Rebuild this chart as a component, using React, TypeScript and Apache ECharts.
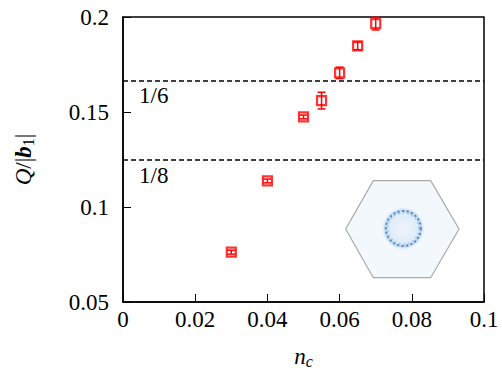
import React, { useEffect, useRef } from "react";
import * as echarts from "echarts";

const nc = [0.03, 0.04, 0.05, 0.055, 0.06, 0.065, 0.07];
const qb = [0.0762, 0.1137, 0.1474, 0.156, 0.1706, 0.1848, 0.1965];
const err = [0.001, 0.001, 0.001, 0.0044, 0.003, 0.002, 0.0033];
const xTicks = [0, 0.02, 0.04, 0.06, 0.08, 0.1];
const refLines = [
  { value: 1 / 6, label: "1/6" },
  { value: 1 / 8, label: "1/8" },
];

const SERIF = "Liberation Serif";
const RED = "#ff0000";
const FS = 23;

export default function App() {
  const ref = useRef<HTMLDivElement>(null);
  useEffect(() => {
    document.body.style.margin = "0";
    if (!ref.current) return;
    const chart = echarts.init(ref.current, undefined, { renderer: "svg" });
    const points = nc.map((x, i) => [x, qb[i]]);
    const errData = nc.map((x, i) => [x, qb[i], err[i]]);
    chart.setOption({
      animation: false,
      textStyle: { fontFamily: SERIF },
      grid: {
        left: 123,
        right: 18,
        top: 17,
        bottom: 79,
        show: true,
        borderColor: "#000",
        borderWidth: 1.5,
        backgroundColor: "transparent",
      },
      xAxis: {
        type: "value",
        min: 0,
        max: 0.1,
        interval: 0.02,
        name: "{i|n}{s|c}",
        nameLocation: "middle",
        nameGap: 41,
        nameTextStyle: {
          rich: {
            i: { fontFamily: SERIF, fontStyle: "italic", fontSize: FS, color: "#000" },
            s: { fontFamily: SERIF, fontStyle: "italic", fontSize: 16, color: "#000", verticalAlign: "bottom", padding: [10, 0, 0, 0] },
          },
        },
        axisLine: { lineStyle: { color: "#000", width: 1.5 } },
        axisTick: { inside: true, length: 8, lineStyle: { color: "#000", width: 1 } },
        splitLine: { show: false },
        axisLabel: {
          margin: 6,
          fontFamily: SERIF,
          fontSize: FS,
          color: "#000",
          formatter: (v: number) => {
            const t = xTicks.find((k) => Math.abs(k - v) < 1e-9);
            return t === undefined ? "" : String(parseFloat(t.toFixed(3)));
          },
        },
      },
      yAxis: {
        type: "value",
        min: 0.05,
        max: 0.2,
        interval: 0.05,
        name: "{i|Q}{n|/|}{b|b}{s|1}{n||}",
        nameLocation: "middle",
        nameRotate: 90,
        nameGap: 87,
        nameTextStyle: {
          rich: {
            i: { fontFamily: SERIF, fontStyle: "italic", fontSize: FS, color: "#000" },
            n: { fontFamily: SERIF, fontSize: FS, color: "#000" },
            b: { fontFamily: SERIF, fontStyle: "italic", fontWeight: "bold", fontSize: FS, color: "#000" },
            s: { fontFamily: SERIF, fontSize: 16, color: "#000", verticalAlign: "bottom", padding: [10, 0, 0, 0] },
          },
        },
        axisLine: { lineStyle: { color: "#000", width: 1.5 } },
        axisTick: { inside: true, length: 8, lineStyle: { color: "#000", width: 1 } },
        splitLine: { show: false },
        axisLabel: {
          margin: 14,
          fontFamily: SERIF,
          fontSize: FS,
          color: "#000",
          formatter: (v: number) => String(parseFloat(v.toFixed(3))),
        },
      },
      series: [
        {
          type: "custom",
          name: "err",
          data: errData,
          z: 3,
          renderItem: (params: any, api: any) => {
            const x = api.value(0);
            const y = api.value(1);
            const e = api.value(2);
            const top = api.coord([x, y + e]);
            const bot = api.coord([x, y - e]);
            const hw = 4;
            const style = { stroke: RED, lineWidth: 1.5 };
            return {
              type: "group",
              children: [
                { type: "line", shape: { x1: top[0], y1: top[1], x2: bot[0], y2: bot[1] }, style },
                { type: "line", shape: { x1: top[0] - hw, y1: top[1], x2: top[0] + hw, y2: top[1] }, style },
                { type: "line", shape: { x1: bot[0] - hw, y1: bot[1], x2: bot[0] + hw, y2: bot[1] }, style },
              ],
            };
          },
        },
        {
          type: "scatter",
          name: "data",
          data: points,
          symbol: "rect",
          symbolSize: 9,
          z: 4,
          itemStyle: { color: "rgba(255,255,255,0)", borderColor: RED, borderWidth: 2.2 },
          markLine: {
            silent: true,
            symbol: "none",
            precision: 8,
            lineStyle: { color: "#000", type: [5, 3], width: 1.5 },
            label: {
              show: true,
              position: "insideStartBottom",
              distance: [16, 4],
              fontFamily: SERIF,
              fontSize: FS,
              color: "#000",
              formatter: (p: any) => p.name,
            },
            data: refLines.map((r) => ({ yAxis: r.value, name: r.label })),
          },
        },
      ],
      graphic: [
        {
          type: "polygon",
          z: 1,
          shape: {
            points: [
              [373.3, 180.7],
              [430.7, 180.7],
              [459, 229],
              [430.7, 277.7],
              [373.3, 277.7],
              [345.7, 229],
            ],
          },
          style: { fill: "#f3f8fd", stroke: "#aaaaaa", lineWidth: 1.2 },
        },
        {
          type: "circle",
          z: 2,
          shape: { cx: 403.3, cy: 228.5, r: 21 },
          style: {
            fill: {
              type: "radial",
              x: 0.5,
              y: 0.5,
              r: 0.5,
              colorStops: [
                { offset: 0, color: "rgba(232,241,250,0.5)" },
                { offset: 0.7, color: "rgba(205,225,245,0.55)" },
                { offset: 0.85, color: "rgba(140,185,228,0.6)" },
                { offset: 1, color: "rgba(215,233,248,0.2)" },
              ],
            },
          },
        },
        {
          type: "circle",
          z: 3,
          shape: { cx: 403.3, cy: 228.5, r: 17.5 },
          style: { fill: "none", stroke: "#2f6fb0", lineWidth: 2, lineDash: [2, 2.5], opacity: 0.75 },
        },
        {
          type: "circle",
          z: 3,
          shape: { cx: 403.3, cy: 228.5, r: 15.5 },
          style: { fill: "none", stroke: "#5b93cc", lineWidth: 1.2, lineDash: [1.5, 3], opacity: 0.55 },
        },
      ],
    });
    return () => chart.dispose();
  }, []);
  return <div ref={ref} style={{ width: 502, height: 381 }} />;
}
